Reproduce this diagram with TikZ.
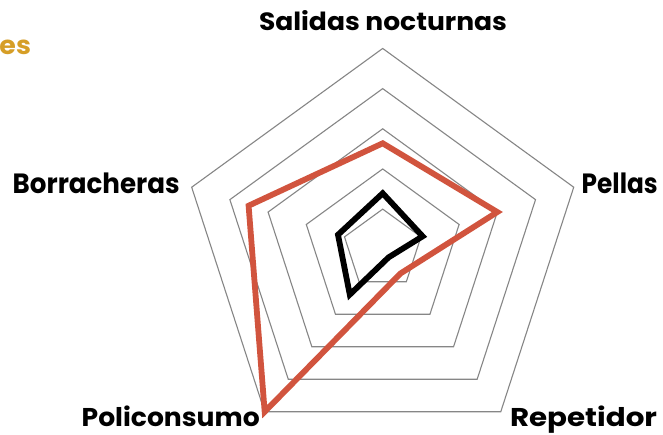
\documentclass[tikz,border=0pt]{standalone}
\usepackage{fontspec}
\setmainfont{Poppins}
\usepackage{graphicx}
\definecolor{serred}{RGB}{209,84,62}
\definecolor{ringgray}{RGB}{134,134,134}
\definecolor{gold}{RGB}{214,158,38}
\newcommand{\fitlabel}[3]{\resizebox{#1}{#2}{\bfseries #3}}
\tikzset{
  ring/.style={draw=ringgray, line width=1.1pt, line join=miter},
  series/.style={line width=5.8pt, line join=miter, miter limit=10},
  lab/.style={anchor=base west, inner sep=0pt, outer sep=0pt, text=black}
}
\begin{document}
\begin{tikzpicture}[x=1pt,y=1pt]
\useasboundingbox (0,0) rectangle (663,435);
\fill[white] (0,0) rectangle (663,435);
\begin{scope}[shift={(382.7,185.7)}]
  \foreach \k in {1,...,5}{
    \draw[ring] (90:{40.17*\k}) -- (18:{40.17*\k}) -- (-54:{40.17*\k}) -- (-126:{40.17*\k}) -- (162:{40.17*\k}) -- cycle;
  }
  \draw[series, draw=serred] (90:106) -- (18:120.5) -- (-54:30) -- (-126:200.8) -- (162:141) -- cycle;
  \draw[series, draw=black] (90:56) -- (18:42) -- (-54:10) -- (-126:56) -- (162:47) -- cycle;
\end{scope}
\node[lab] (salidas) at (259,404.5) {\fitlabel{248pt}{20pt}{Salidas nocturnas}};
\node[lab] (borracheras) at (12.7,241.7) {\fitlabel{167pt}{20.6pt}{Borracheras}};
\node[lab] (pellas) at (581.7,241.7) {\fitlabel{76pt}{20.6pt}{Pellas}};
\node[lab] (policonsumo) at (81.7,8.3) {\fitlabel{178pt}{20.6pt}{Policonsumo}};
\node[lab] (repetidor) at (510,8.3) {\fitlabel{147pt}{20.6pt}{Repetidor}};
\node[lab, text=gold] (title) at (-0.5,380) {\fitlabel{31.5pt}{14.5pt}{es}};
\end{tikzpicture}
\end{document}
